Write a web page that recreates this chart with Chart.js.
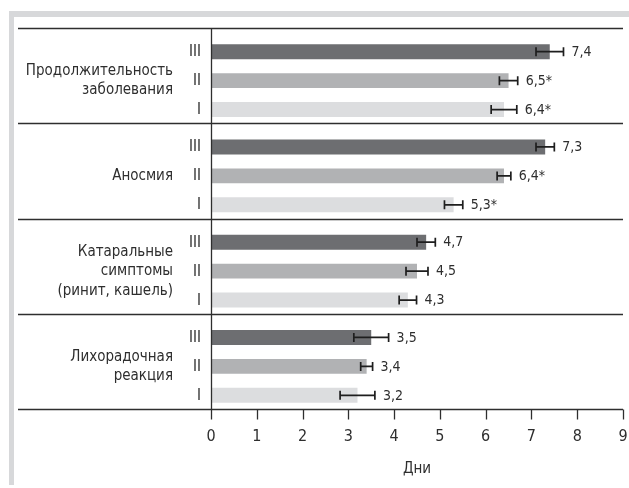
<!DOCTYPE html>
<html>
<head>
<meta charset="utf-8">
<script src="https://cdn.jsdelivr.net/npm/chart.js@4/dist/chart.umd.min.js"></script>
<style>
  html, body { margin: 0; padding: 0; background: #fff; }
  #wrap { position: relative; width: 629px; height: 488px; overflow: hidden; }
  #frame { position: absolute; left: 9px; top: 11px; right: -10px; bottom: 3px;
           border-top: 6px solid #d7d8da; border-left: 5px solid #d7d8da; }
  #c { position: absolute; left: 0; top: 0; }
</style>
</head>
<body>
<div id="wrap">
  <div id="frame"></div>
  <canvas id="c" width="629" height="488"></canvas>
</div>
<script>
// Symptom groups (multi-line labels) and the three patient groups
const categories = [
  ['Продолжительность', 'заболевания'],
  ['Аносмия'],
  ['Катаральные', 'симптомы', '(ринит, кашель)'],
  ['Лихорадочная', 'реакция']
];
const groupNames = ['III', 'II', 'I'];

// Mean duration, days
const valuesIII = [7.4, 7.3, 4.7, 3.5];
const valuesII  = [6.5, 6.4, 4.5, 3.4];
const valuesI   = [6.4, 5.3, 4.3, 3.2];

// Error (± days)
const errIII = [0.30, 0.20, 0.20, 0.38];
const errII  = [0.20, 0.15, 0.24, 0.13];
const errI   = [0.28, 0.20, 0.19, 0.38];

// Significant difference marks (*)
const sigIII = [false, false, false, false];
const sigII  = [true, true, false, false];
const sigI   = [true, true, false, false];

const xTicks = [0, 1, 2, 3, 4, 5, 6, 7, 8, 9];
const xTitle = 'Дни';

const FONT = '"Liberation Sans Narrow", "DejaVu Sans Condensed", "Liberation Sans", Arial, sans-serif';
const INK = '#2e2e2e';
// block rules sit a little above the category bands, so bars hang low in each block
const RULE_SHIFT = 5;
const TICK_LEN = 10;

const series = [
  { label: groupNames[0], data: valuesIII, err: errIII, sig: sigIII, backgroundColor: '#6d6e71' },
  { label: groupNames[1], data: valuesII,  err: errII,  sig: sigII,  backgroundColor: '#b1b2b4' },
  { label: groupNames[2], data: valuesI,   err: errI,   sig: sigI,   backgroundColor: '#dcdddf' }
];

function fmt(v, star) {
  return v.toFixed(1).replace('.', ',') + (star ? '*' : '');
}

// Frame lines, x ticks, group numerals, error bars and value labels
const decorations = {
  id: 'decorations',
  afterDatasetsDraw(chart) {
    const { ctx, chartArea } = chart;
    const x = chart.scales.x;
    const y = chart.scales.y;
    ctx.save();

    const ruleY = k => Math.round(y.getPixelForValue(k - 0.5)) - RULE_SHIFT + 0.5;
    const topY = ruleY(0);
    const bottomY = ruleY(categories.length);

    ctx.strokeStyle = INK;
    ctx.lineWidth = 1.3;
    // horizontal rules between symptom blocks
    for (let k = 0; k <= categories.length; k++) {
      const py = ruleY(k);
      ctx.beginPath();
      ctx.moveTo(18, py);
      ctx.lineTo(chartArea.right, py);
      ctx.stroke();
    }
    // vertical axis line
    const x0px = Math.round(x.getPixelForValue(xTicks[0])) + 0.5;
    ctx.beginPath();
    ctx.moveTo(x0px, topY);
    ctx.lineTo(x0px, bottomY);
    ctx.stroke();
    // x tick marks
    xTicks.forEach(t => {
      const px = Math.round(x.getPixelForValue(t)) + 0.5;
      ctx.beginPath();
      ctx.moveTo(px, bottomY);
      ctx.lineTo(px, bottomY + TICK_LEN);
      ctx.stroke();
    });

    chart.data.datasets.forEach((ds, di) => {
      const meta = chart.getDatasetMeta(di);
      meta.data.forEach((bar, i) => {
        const v = ds.data[i];
        const e = ds.err[i];
        const xa = x.getPixelForValue(v - e);
        const xb = x.getPixelForValue(v + e);
        const by = bar.y;

        // error bar
        ctx.strokeStyle = '#1e1e1e';
        ctx.lineWidth = 1.7;
        ctx.beginPath();
        ctx.moveTo(xa, by); ctx.lineTo(xb, by);
        ctx.moveTo(xa, by - 4.5); ctx.lineTo(xa, by + 4.5);
        ctx.moveTo(xb, by - 4.5); ctx.lineTo(xb, by + 4.5);
        ctx.stroke();

        // value label
        ctx.fillStyle = INK;
        ctx.font = '14px ' + FONT;
        ctx.textAlign = 'left';
        ctx.textBaseline = 'middle';
        ctx.fillText(fmt(v, ds.sig[i]), xb + 8, by + 0.5);

        // group numeral
        ctx.font = '15px ' + FONT;
        ctx.textAlign = 'right';
        ctx.fillText(ds.label, 201, by + 0.5);
      });
    });
    ctx.restore();
  }
};

new Chart(document.getElementById('c'), {
  type: 'bar',
  data: {
    labels: categories,
    datasets: series.map(s => ({
      label: s.label,
      data: s.data,
      err: s.err,
      sig: s.sig,
      backgroundColor: s.backgroundColor,
      borderWidth: 0,
      barPercentage: 0.517,
      categoryPercentage: 0.913
    }))
  },
  options: {
    indexAxis: 'y',
    responsive: false,
    animation: false,
    layout: { padding: { top: 33, right: 6, bottom: 9, left: 0 } },
    plugins: {
      legend: { display: false },
      tooltip: { enabled: false }
    },
    scales: {
      y: {
        type: 'category',
        afterFit(scale) {
          scale.width = 211;
          scale.paddingTop = 0;
          scale.paddingBottom = 0;
        },
        grid: { display: false },
        border: { display: false },
        ticks: {
          padding: 30,
          color: INK,
          font: { family: FONT, size: 15, lineHeight: 1.3 }
        }
      },
      x: {
        type: 'linear',
        min: xTicks[0],
        max: xTicks[xTicks.length - 1],
        afterFit(scale) {
          scale.height = 65;
          scale.paddingLeft = 0;
          scale.paddingRight = 0;
        },
        afterBuildTicks(scale) { scale.ticks = xTicks.map(v => ({ value: v })); },
        grid: { display: false },
        border: { display: false },
        ticks: {
          padding: 5,
          color: INK,
          font: { family: FONT, size: 16 },
          callback: v => String(v)
        },
        title: {
          display: true,
          text: xTitle,
          color: INK,
          font: { family: FONT, size: 15 },
          padding: { top: 4, bottom: 1 }
        }
      }
    }
  },
  plugins: [decorations]
});
</script>
</body>
</html>
